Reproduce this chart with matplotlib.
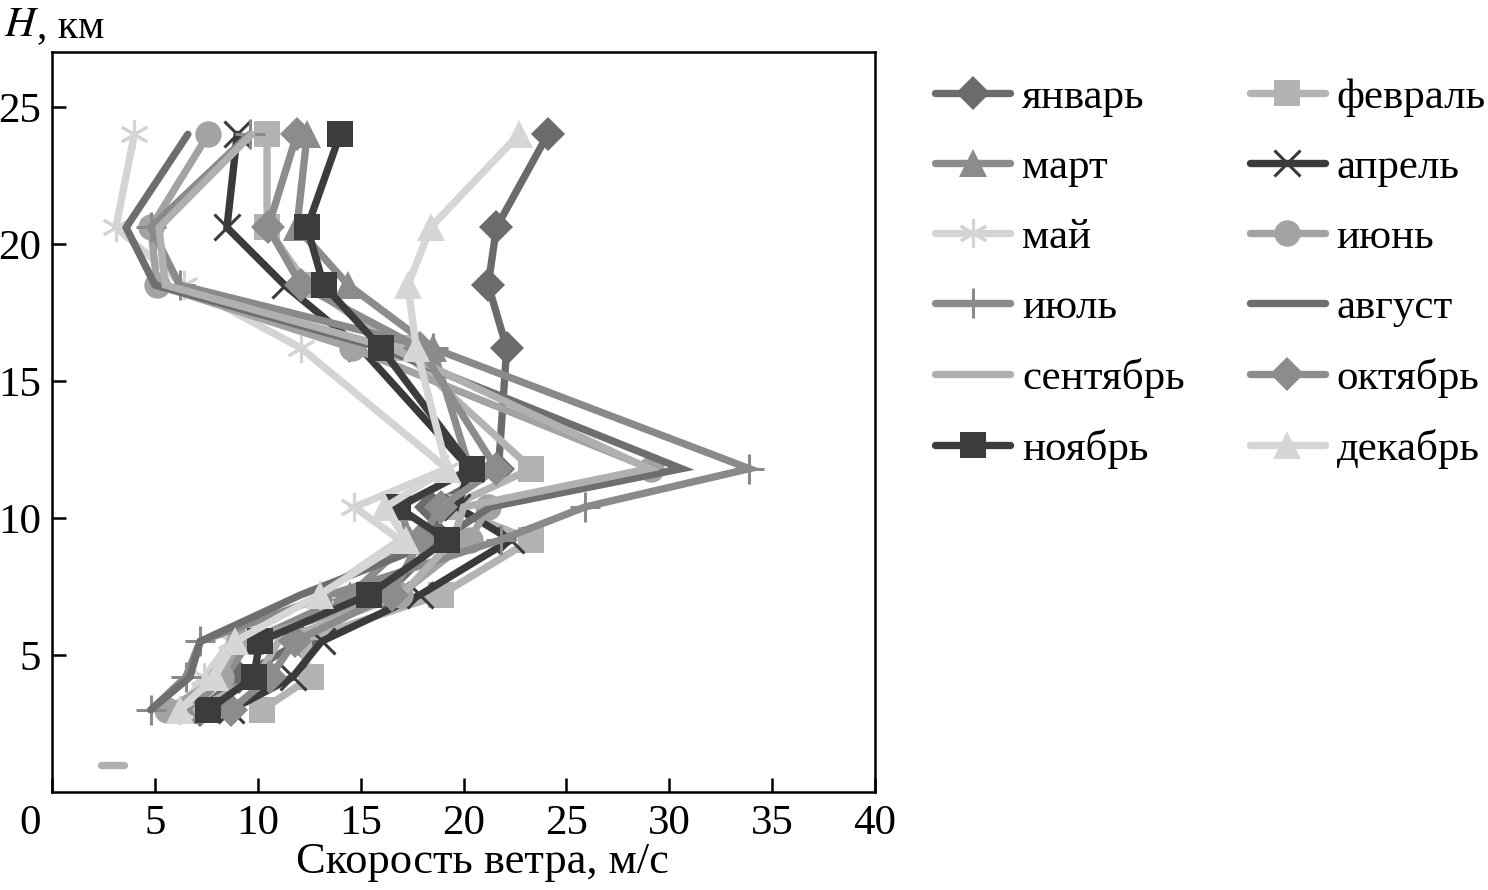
import matplotlib
matplotlib.use("Agg")
import matplotlib.pyplot as plt
from matplotlib import transforms

plt.rcParams['font.family'] = ['Liberation Serif', 'DejaVu Serif']

# Heights (km)
H = [3.0, 4.2, 5.5, 7.2, 9.2, 10.4, 11.8, 16.2, 18.5, 20.6, 24.0]

# Wind speed (m/s) per month at heights H
jan = [7.2, 9.1, 12.1, 16.2, 18.9, 18.4, 21.7, 22.1, 21.2, 21.6, 24.1]
feb = [10.2, 12.6, 12.0, 18.9, 23.3, 19.3, 23.3, 16.9, 12.4, 10.45, 10.45]
mar = [6.7, 8.4, 9.6, 14.5, 17.4, 16.9, 20.3, 18.5, 14.4, 11.9, 12.4]
apr = [8.7, 11.7, 13.1, 17.9, 22.3, 19.7, 20.3, 15.0, 11.3, 8.5, 9.0]
may = [6.2, 7.4, 8.7, 13.0, 16.9, 14.7, 19.2, 12.1, 6.4, 3.1, 4.0]
jun = [5.6, 8.2, 9.1, 16.9, 20.3, 21.2, 29.1, 14.6, 5.1, 4.8, 7.6]
jul = [4.8, 6.5, 7.2, 13.5, 21.8, 25.9, 33.9, 18.5, 6.2, 4.8, 9.6]
aug = [4.8, 6.7, 7.2, 12.1, 18.9, 21.3, 30.6, 16.0, 5.0, 3.6, 6.6]
sep = [7.0, 10.0, 11.0, 17.0, 19.5, 20.0, 29.0, 16.5, 5.5, 5.2, 9.7]
octo = [8.7, 10.6, 11.8, 16.5, 17.9, 18.9, 21.6, 17.9, 12.1, 10.5, 11.9]
nov = [7.6, 9.8, 10.1, 15.4, 19.2, 16.8, 20.4, 16.0, 13.2, 12.4, 14.0]
dec = [6.2, 7.9, 8.9, 13.0, 17.2, 16.2, 19.2, 17.7, 17.3, 18.4, 22.7]

# short segment near 1 km
dash_x = [2.4, 3.5]
dash_h = [1.0, 1.0]

months = ['январь', 'февраль', 'март', 'апрель', 'май', 'июнь',
          'июль', 'август', 'сентябрь', 'октябрь', 'ноябрь', 'декабрь']
values = [jan, feb, mar, apr, may, jun, jul, aug, sep, octo, nov, dec]

styles = {
    'январь':   dict(color='#6b6b6b', marker='D', ms=17),
    'февраль':  dict(color='#b3b3b3', marker='s', ms=19),
    'март':     dict(color='#8c8c8c', marker='^', ms=20),
    'апрель':   dict(color='#3a3a3a', marker='x', ms=19, mew=2.2),
    'май':      dict(color='#d4d4d4', marker=(6, 2, 0), ms=21, mew=2.2),
    'июнь':     dict(color='#a3a3a3', marker='o', ms=19),
    'июль':     dict(color='#8a8a8a', marker='+', ms=21, mew=2.2),
    'август':   dict(color='#6e6e6e', marker=None),
    'сентябрь': dict(color='#b0b0b0', marker=None),
    'октябрь':  dict(color='#8c8c8c', marker='D', ms=17),
    'ноябрь':   dict(color='#3c3c3c', marker='s', ms=19),
    'декабрь':  dict(color='#d6d6d6', marker='^', ms=20),
}

fig = plt.figure(figsize=(14.88, 8.9), dpi=100)
ax = fig.add_axes([0.035, 0.110, 0.553, 0.8315])

handles = {}
for name, vals in zip(months, values):
    st = dict(styles[name])
    col = st.pop('color')
    mk = st.pop('marker')
    ms = st.pop('ms', 0)
    mew = st.pop('mew', 0)
    kw = dict(color=col, lw=5.3, solid_capstyle='round', solid_joinstyle='miter')
    if mk is not None:
        kw.update(marker=mk, ms=ms, mfc=col, mec=col, mew=mew)
    line, = ax.plot(vals, H, **kw)
    handles[name] = line

ax.plot(dash_x, dash_h, color='#b0b0b0', lw=5.3, solid_capstyle='round')

ax.set_xlim(0, 40)
ax.set_ylim(0, 27)
ax.set_xticks(range(0, 41, 5))
ax.set_yticks(range(5, 26, 5))
ax.tick_params(direction='in', length=10, width=1.8, labelsize=31,
               top=False, right=False)
ax.tick_params(axis='x', pad=9)
ax.tick_params(axis='y', pad=8)
for sp in ax.spines.values():
    sp.set_linewidth(1.8)

# shift the "0" label to the left
lbl0 = ax.get_xticklabels()[0]
lbl0.set_transform(lbl0.get_transform() +
                   transforms.ScaledTranslation(-0.22, 0, fig.dpi_scale_trans))

fig.text(0.003, 0.993, '$H$', fontsize=31, va='top', ha='left',
         math_fontfamily='stix')
fig.text(0.025, 0.991, ', км', fontsize=30, va='top', ha='left')
fig.text(0.324, 0.031, 'Скорость ветра, м/с', fontsize=32, ha='center', va='center')

order = ['январь', 'март', 'май', 'июль', 'сентябрь', 'ноябрь',
         'февраль', 'апрель', 'июнь', 'август', 'октябрь', 'декабрь']
fig.legend([handles[n] for n in order], order, loc='upper left',
           bbox_to_anchor=(0.617, 0.932), ncol=2, frameon=False,
           fontsize=31, handlelength=1.74, handletextpad=0.28,
           columnspacing=1.5, labelspacing=0.72, borderaxespad=0)

fig.savefig('out.png', dpi=100)
